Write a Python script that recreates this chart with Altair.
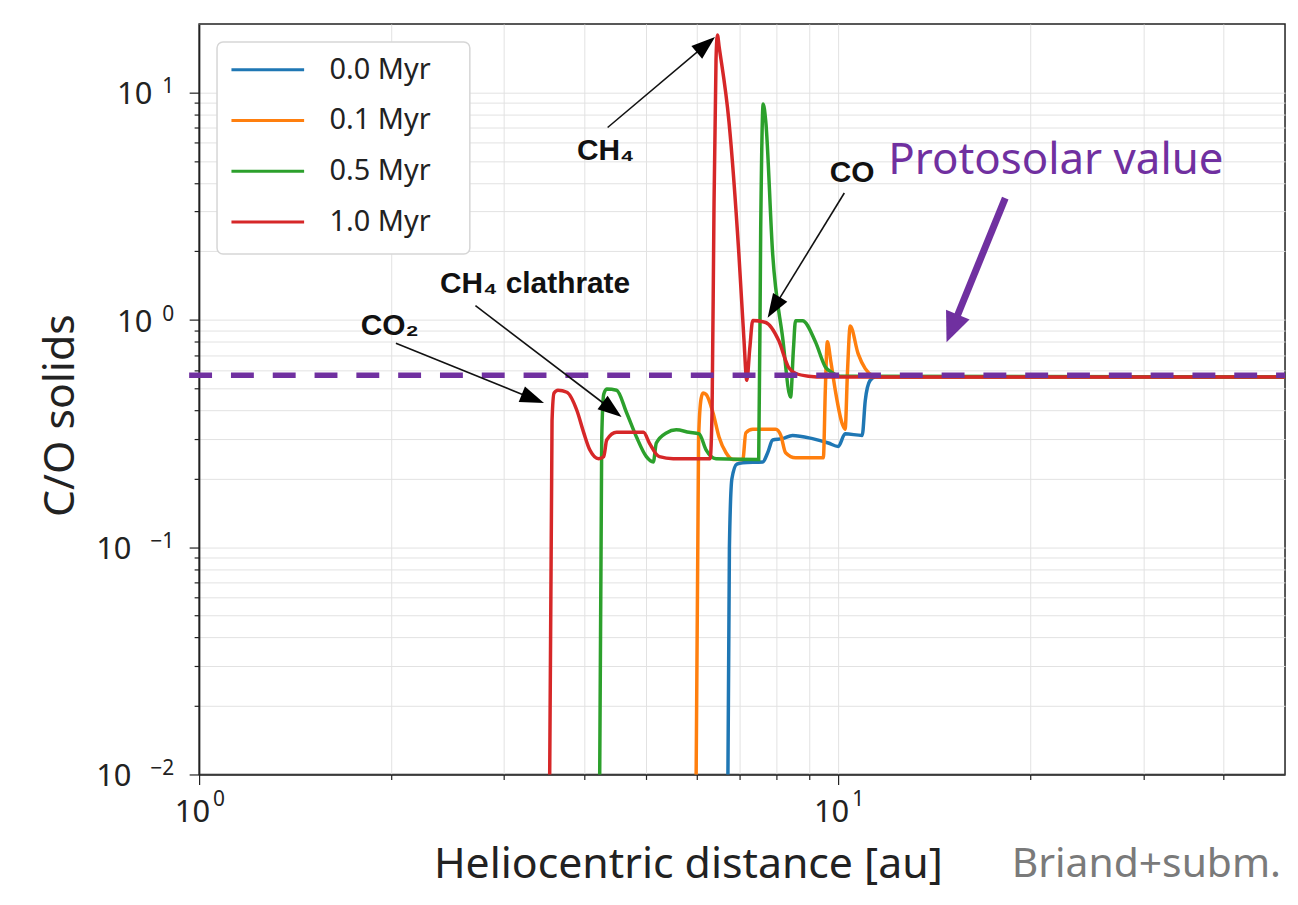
import math
import altair as alt
import pandas as pd

# ---------------- data ----------------
series_names = ["0.0 Myr", "0.1 Myr", "0.5 Myr", "1.0 Myr"]
series_colors = ["#1f77b4", "#ff7f0e", "#2ca02c", "#d62728"]

x_00 = [6.720, 6.756, 6.817, 6.94, 7.09, 7.617, 7.754, 7.895, 8.183, 8.480, 9.112, 9.648, 10.0, 10.25, 10.90, 11.02, 11.21, 11.42, 50.0]
y_00 = [0.01, 0.10, 0.20, 0.232, 0.235, 0.237, 0.26, 0.296, 0.30, 0.31, 0.30, 0.287, 0.277, 0.315, 0.31, 0.44, 0.54, 0.56, 0.56]

x_01 = [5.993, 6.046, 6.101, 6.145, 6.211, 6.368, 6.508, 6.674, 6.842, 7.090, 7.167, 7.349, 7.980, 8.13, 8.272, 8.573, 9.477, 9.546, 9.614, 9.74, 9.893, 10.14, 10.25, 10.34, 10.44, 10.74, 11.02, 11.30, 11.6, 50.0]
y_01 = [0.01, 0.30, 0.45, 0.476, 0.47, 0.39, 0.305, 0.26, 0.243, 0.243, 0.318, 0.33, 0.33, 0.31, 0.26, 0.247, 0.247, 0.50, 0.80, 0.65, 0.49, 0.35, 0.33, 0.60, 0.94, 0.71, 0.61, 0.57, 0.56, 0.56]

x_05 = [4.234, 4.265, 4.296, 4.342, 4.500, 4.665, 4.834, 5.009, 5.136, 5.192, 5.383, 5.578, 5.844, 6.057, 6.211, 6.438, 7.508, 7.562, 7.63, 7.700, 7.895, 8.183, 8.421, 8.51, 8.573, 8.790, 9.209, 9.546, 9.788, 10.07, 50.0]
y_05 = [0.01, 0.30, 0.47, 0.496, 0.49, 0.39, 0.305, 0.25, 0.237, 0.287, 0.318, 0.328, 0.32, 0.315, 0.268, 0.245, 0.243, 2.5, 8.9, 7.5, 1.95, 0.837, 0.457, 0.75, 0.99, 0.99, 0.80, 0.62, 0.585, 0.565, 0.56]

x_10 = [3.536, 3.566, 3.592, 3.643, 3.762, 3.899, 3.998, 4.085, 4.219, 4.296, 4.342, 4.500, 4.957, 5.064, 5.249, 5.518, 6.302, 6.347, 6.39, 6.438, 6.471, 6.508, 6.745, 6.990, 7.116, 7.193, 7.271, 7.349, 7.700, 8.066, 8.360, 8.573, 8.981, 9.546, 50.0]
y_10 = [0.01, 0.36, 0.476, 0.49, 0.48, 0.40, 0.318, 0.268, 0.245, 0.25, 0.296, 0.32, 0.32, 0.287, 0.25, 0.245, 0.245, 0.40, 3.0, 14.0, 17.9, 16.0, 7.45, 1.95, 0.837, 0.542, 0.75, 0.993, 0.973, 0.812, 0.618, 0.582, 0.565, 0.56, 0.56]

protosolar_value = 0.57

x_grid = [1, 2, 3, 4, 5, 6, 7, 8, 9, 10, 20, 30, 40]
y_grid = [0.01, 0.02, 0.03, 0.04, 0.05, 0.06, 0.07, 0.08, 0.09,
          0.1, 0.2, 0.3, 0.4, 0.5, 0.6, 0.7, 0.8, 0.9,
          1, 2, 3, 4, 5, 6, 7, 8, 9, 10]

# tick labels (10^n)
x_label_vals = [1, 10]
x_label_exp = ["0", "1"]
y_label_vals = [0.01, 0.1, 1, 10]
y_label_exp = ["\u22122", "\u22121", "0", "1"]

# annotations (data coordinates)
ann_text = ["CH\u2084", "CO", "CH\u2084 clathrate", "CO\u2082"]
ann_x = [4.325, 10.51, 3.355, 1.988]
ann_y = [5.51, 4.41, 1.442, 0.935]
arr_x0 = [4.357, 10.22, 2.706, 2.032]
arr_y0 = [7.01, 3.61, 1.155, 0.788]
arr_x1 = [6.415, 7.754, 4.581, 3.464]
arr_y1 = [17.55, 1.02, 0.3736, 0.430]

proto_text = "Protosolar value"
proto_text_x, proto_text_y = 21.9, 4.98
proto_arr = (18.25, 3.43, 14.77, 0.796)

# ---------------- layout ----------------
W, H = 1091, 754
X_MIN, X_MAX = 1, 50
Y_MIN, Y_MAX = 0.01, 20
PURPLE = "#7030A0"
FONT = "Noto Sans"
INK = "#222222"


def px_x(v):
    return W * math.log10(v / X_MIN) / math.log10(X_MAX / X_MIN)


def px_y(v):
    return H * math.log10(Y_MAX / v) / math.log10(Y_MAX / Y_MIN)


def inv_x(p):
    return X_MIN * 10 ** (p / W * math.log10(X_MAX / X_MIN))


def inv_y(p):
    return Y_MAX / 10 ** (p / H * math.log10(Y_MAX / Y_MIN))


def arrow(x0, y0, x1, y1, head_len):
    sx, sy, tx, ty = px_x(x0), px_y(y0), px_x(x1), px_y(y1)
    dx, dy = tx - sx, ty - sy
    L = math.hypot(dx, dy)
    ux, uy = dx / L, dy / L
    cx, cy = tx - ux * head_len / 2, ty - uy * head_len / 2
    ang = math.degrees(math.atan2(ux, -uy)) % 360
    return {"x": x0, "y": y0, "x2": inv_x(cx), "y2": inv_y(cy),
            "hx": inv_x(cx), "hy": inv_y(cy), "angle": ang}


rows = []
for name, xs_, ys_ in zip(series_names, [x_00, x_01, x_05, x_10], [y_00, y_01, y_05, y_10]):
    for i, (a, b) in enumerate(zip(xs_, ys_)):
        rows.append({"series": name, "x": a, "y": b, "i": i})
lines_df = pd.DataFrame(rows)

arrows_df = pd.DataFrame([arrow(a, b, c, d, 24) for a, b, c, d in zip(arr_x0, arr_y0, arr_x1, arr_y1)])
parr_df = pd.DataFrame([arrow(*proto_arr, 30)])
ann_df = pd.DataFrame({"x": ann_x, "y": ann_y, "t": ann_text})
proto_df = pd.DataFrame({"x": [proto_text_x], "y": [proto_text_y], "t": [proto_text]})
dash_df = pd.DataFrame({"y": [protosolar_value]})
xlab_df = pd.DataFrame({"x": x_label_vals, "e": x_label_exp, "b": ["10"] * len(x_label_vals)})
ylab_df = pd.DataFrame({"y": y_label_vals, "e": y_label_exp, "b": ["10"] * len(y_label_vals),
                        "neg": [e.startswith("\u2212") for e in y_label_exp]})

xs = alt.Scale(type="log", domain=[X_MIN, X_MAX], nice=False)
ys = alt.Scale(type="log", domain=[Y_MIN, Y_MAX], nice=False)

x_axis = alt.Axis(
    values=x_grid, grid=True, gridColor="#e2e2e2", gridWidth=1, labels=False,
    tickSize={"condition": {"test": "datum.value == 1 || datum.value == 10", "value": 10}, "value": 5},
    tickColor=INK, tickWidth=1.2, domainColor=INK, domainWidth=1.5,
    title="Heliocentric distance [au]", titleFont=FONT, titleFontSize=43, titleFontWeight="normal",
    titleColor=INK, titleX=491, titleY=104, titleBaseline="alphabetic", titleAnchor="middle",
)
y_axis = alt.Axis(
    values=y_grid, grid=True, gridColor="#e2e2e2", gridWidth=1, labels=False,
    tickSize={"condition": {"test": "datum.value == 0.01 || datum.value == 0.1 || datum.value == 1 || datum.value == 10", "value": 10}, "value": 5},
    tickColor=INK, tickWidth=1.2, domainColor=INK, domainWidth=1.5,
    title="C/O solids", titleFont=FONT, titleFontSize=43, titleFontWeight="normal",
    titleColor=INK, titleX=-126, titleY=393, titleBaseline="alphabetic", titleAngle=270,
    titleAlign="center",
)


def X(f):
    return alt.X(f, type="quantitative", scale=xs, axis=x_axis)


def Y(f):
    return alt.Y(f, type="quantitative", scale=ys, axis=y_axis)


lines = alt.Chart(lines_df).mark_line(strokeWidth=3.5, interpolate="monotone").encode(
    x=X("x"), y=Y("y"),
    color=alt.Color("series:N", scale=alt.Scale(domain=series_names, range=series_colors),
                    legend=alt.Legend(
                        title=None, orient="none", legendX=18, legendY=18,
                        symbolType="stroke", symbolSize=5329, symbolStrokeWidth=3,
                        labelFont=FONT, labelFontSize=29, labelColor=INK,
                        clipHeight=30, rowPadding=21, padding=13, labelOffset=24)),
    order="i:Q",
)

# legend frame (drawn under the legend entries, above the grid)
legend_frame = alt.Chart(pd.DataFrame({"k": [0]})).mark_rect(
    fill="white", stroke="#d6d6d6", strokeWidth=1.5, cornerRadius=6
).encode(x=alt.value(18), x2=alt.value(272), y=alt.value(18), y2=alt.value(231))

dash = alt.Chart(dash_df).mark_rule(color=PURPLE, strokeWidth=5.5, strokeDash=[23, 19]).encode(
    y=Y("y"), x=alt.value(-10), x2=alt.value(W))

shafts = alt.Chart(arrows_df).mark_rule(color="#111", strokeWidth=1.6).encode(
    x=X("x"), y=Y("y"), x2="x2:Q", y2="y2:Q")
heads = alt.Chart(arrows_df).mark_point(
    shape="M0,-1L-0.7,1L0.7,1Z", filled=True, color="#000", opacity=1, size=576, strokeWidth=0
).encode(x=X("hx"), y=Y("hy"), angle=alt.Angle("angle:Q", scale=None))

labels = alt.Chart(ann_df).mark_text(
    font="Liberation Sans", fontWeight="bold", fontSize=30, color="#111", baseline="middle", align="center"
).encode(x=X("x"), y=Y("y"), text="t:N")

pshaft = alt.Chart(parr_df).mark_rule(color=PURPLE, strokeWidth=7).encode(
    x=X("x"), y=Y("y"), x2="x2:Q", y2="y2:Q")
phead = alt.Chart(parr_df).mark_point(
    shape="M0,-1L-0.85,1L0.85,1Z", filled=True, color=PURPLE, opacity=1, size=900, strokeWidth=0
).encode(x=X("hx"), y=Y("hy"), angle=alt.Angle("angle:Q", scale=None))
ptext = alt.Chart(proto_df).mark_text(
    font=FONT, fontSize=44, color=PURPLE, baseline="middle", align="center"
).encode(x=X("x"), y=Y("y"), text="t:N")

# tick labels drawn as text: base "10" plus a smaller raised exponent
xl_base = alt.Chart(xlab_df).mark_text(
    font=FONT, fontSize=31, color=INK, align="right", baseline="middle", dx=11
).encode(x=X("x"), y=alt.value(H + 39), text="b:N")
xl_exp = alt.Chart(xlab_df).mark_text(
    font=FONT, fontSize=21, color=INK, align="left", baseline="middle", dx=14
).encode(x=X("x"), y=alt.value(H + 26), text="e:N")

yl_exp = alt.Chart(ylab_df).mark_text(
    font=FONT, fontSize=21, color=INK, align="right", baseline="middle", dy=-5
).encode(y=Y("y"), x=alt.value(-25), text="e:N")
yl_base_neg = alt.Chart(ylab_df).transform_filter("datum.neg").mark_text(
    font=FONT, fontSize=31, color=INK, align="right", baseline="middle", dy=3
).encode(y=Y("y"), x=alt.value(-68), text="b:N")
yl_base_pos = alt.Chart(ylab_df).transform_filter("!datum.neg").mark_text(
    font=FONT, fontSize=31, color=INK, align="right", baseline="middle", dy=3
).encode(y=Y("y"), x=alt.value(-47), text="b:N")

credit = alt.Chart(pd.DataFrame({"t": ["Briand+subm."]})).mark_text(
    font=FONT, fontSize=41, color="#7a7a7a", align="right", baseline="alphabetic"
).encode(x=alt.value(W - 4), y=alt.value(H + 103), text="t:N")

chart = alt.layer(
    lines, dash, legend_frame, shafts, heads, labels, pshaft, phead, ptext,
    xl_base, xl_exp, yl_exp, yl_base_neg, yl_base_pos, credit
).properties(
    width=W, height=H,
    autosize=alt.AutoSizeParams(type="none"),
    padding={"left": 192, "top": 14, "right": 5, "bottom": 115},
    background="white",
).configure_view(stroke=INK, strokeWidth=1.5)

chart.save("out.html", embed_options={"renderer": "svg", "actions": False})
